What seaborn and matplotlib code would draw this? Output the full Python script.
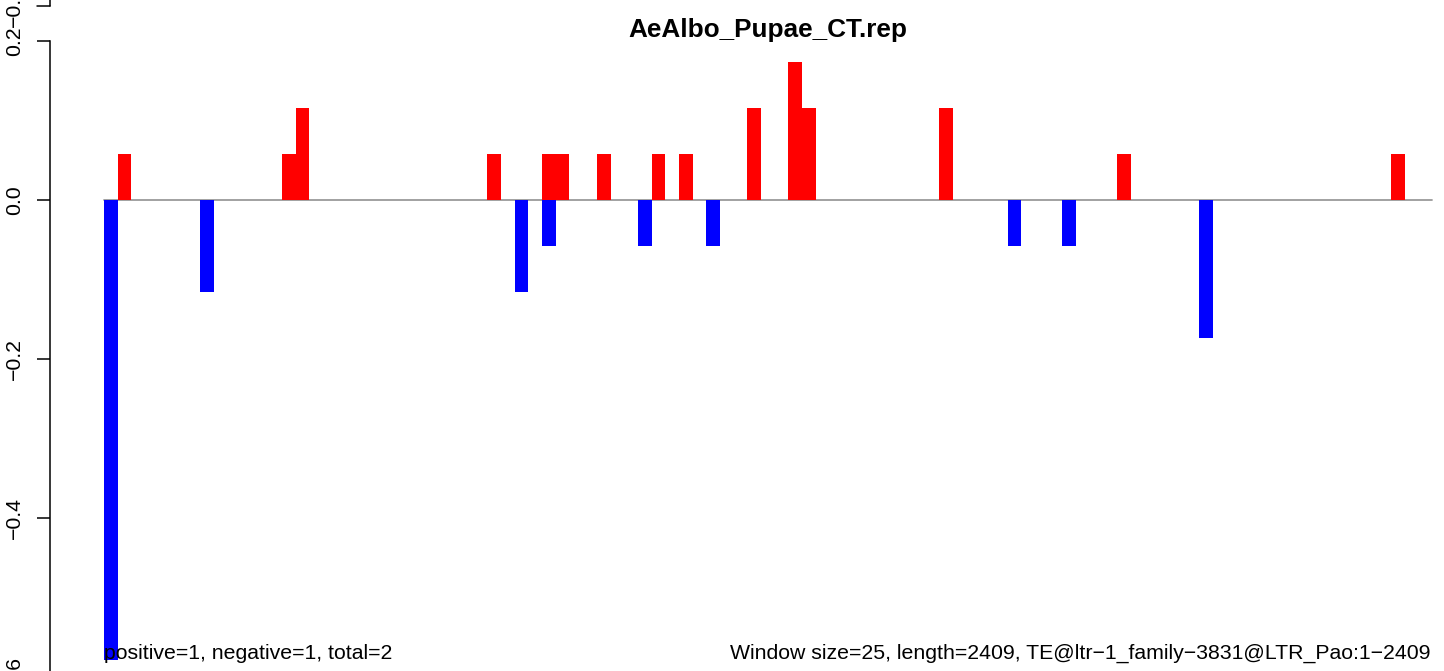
import seaborn as sns
import matplotlib
matplotlib.use("Agg")
import matplotlib.pyplot as plt
import pandas as pd

# window bins (size 25 over 2409 bp -> 97 bins)
n_bins = 97
pos_bins = [1, 13, 14, 28, 32, 33, 36, 40, 42, 47, 50, 51, 61, 74, 94]
pos_vals = [0.058, 0.058, 0.116, 0.058, 0.058, 0.058, 0.058, 0.058, 0.058,
            0.116, 0.174, 0.116, 0.116, 0.058, 0.058]
neg_bins = [0, 7, 30, 32, 39, 44, 66, 70, 80]
neg_vals = [-0.579, -0.116, -0.116, -0.058, -0.058, -0.058, -0.058, -0.058, -0.174]
y_ticks = [-0.6, -0.4, -0.2, 0.0, 0.2]

title = "AeAlbo_Pupae_CT.rep"
left_note = "positive=1, negative=1, total=2"
right_note = "Window size=25, length=2409, TE@ltr\u22121_family\u22123831@LTR_Pao:1\u22122409"

df = pd.concat([
    pd.DataFrame({"bin": pos_bins, "value": pos_vals, "sign": "pos"}),
    pd.DataFrame({"bin": neg_bins, "value": neg_vals, "sign": "neg"}),
], ignore_index=True)
df["center"] = df["bin"] + 0.5

sns.set_style("ticks", rc={"axes.edgecolor": "black", "text.color": "black",
                           "ytick.color": "black", "axes.labelcolor": "black"})
plt.rcParams["font.family"] = ["Liberation Sans", "DejaVu Sans"]

W, H = 1444, 671
fig = plt.figure(figsize=(W / 100, H / 100), dpi=100)
# axes: y-axis line at x=50px, 0.2 at y=41px, -0.6 at y=677px
ax = fig.add_axes([50 / W, (H - 677) / H, (W - 50) / W, 636 / H])

sns.barplot(data=df, x="center", y="value", hue="sign", native_scale=True,
            dodge=False, width=1.0, palette={"pos": "#FF0000", "neg": "#0000FF"},
            saturation=1, linewidth=0, errorbar=None, legend=False, ax=ax)

px_per_bin = 13.69
ax.set_xlim(-54 / px_per_bin, (W - 104) / px_per_bin)
ax.set_ylim(-0.6, 0.2)

# zero line across all bins
ax.plot([0, n_bins], [0, 0], color="#9a9a9a", lw=1.3, zorder=0)

for s in ["top", "right", "bottom"]:
    ax.spines[s].set_visible(False)
ax.spines["left"].set_linewidth(1.1)
ax.xaxis.set_visible(False)
ax.set_yticks(y_ticks)
ax.set_yticklabels([f"{t:.1f}".replace("-", "\u2212") for t in y_ticks],
                   rotation=90, va="center")
ax.tick_params(axis="y", length=9.4, width=1.1, labelsize=15.3, pad=9)
ax.set_ylabel("")
ax.set_xlabel("")

# piece of the axis from the panel above
ytr = ax.get_yaxis_transform()
ax.plot([0, 0], [0.244, 0.27], color="black", lw=1.1, transform=ytr, clip_on=False)
ax.plot([-13 / (W - 50), 0], [0.244, 0.244], color="black", lw=1.1,
        transform=ytr, clip_on=False)
ax.text(-36 / (W - 50), 0.244, "\u22120.6", rotation=90, ha="center", va="center",
        fontsize=15.3, transform=ytr, clip_on=False)

fig.text(768 / W, (H - 37) / H, title, ha="center", va="baseline",
         fontsize=18.8, fontweight="bold")
fig.text(104 / W, (H - 659) / H, left_note, ha="left", va="baseline", fontsize=15.3)
fig.text(1431 / W, (H - 659) / H, right_note, ha="right", va="baseline", fontsize=15.3)

fig.savefig("out.png", dpi=100)
